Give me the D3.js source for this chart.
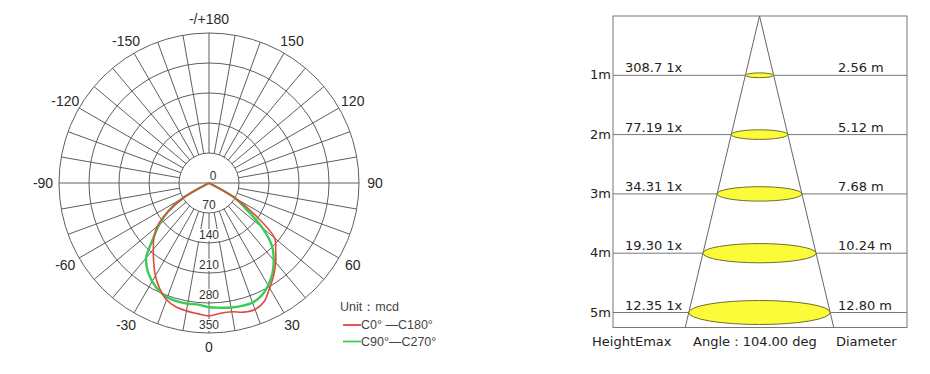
<!DOCTYPE html>
<html>
<head>
<meta charset="utf-8">
<script src="https://cdn.jsdelivr.net/npm/d3@7"></script>
<style>
  body { margin: 0; background: #fff; }
  svg { display: block; }
</style>
</head>
<body>
<div id="chart"></div>
<script>
// polar curve data, angle in degrees (0 = straight down), values in mcd
const angles = d3.range(-90, 91, 5);
const c0_c180 = [0, 0, 0, 0, 0, 0, 70, 118, 158, 182, 202, 225, 250, 272, 290, 299, 303, 306, 310,
                 305, 305, 312, 314, 305, 283, 263, 242, 220, 200, 135, 70, 0, 0, 0, 0, 0, 0];
const c90_c270 = [0, 0, 0, 0, 0, 0, 70, 117, 152, 185, 228, 250, 265, 277, 284, 286, 286, 285, 290,
                  292, 295, 297, 297, 290, 276, 258, 235, 208, 162, 105, 70, 0, 0, 0, 0, 0, 0];
const ringTicks = [0, 70, 140, 210, 280, 350];
const angleTicks = [0, 30, 60, 90, 120, 150, 180, -150, -120, -90, -60, -30];
const angleLabels = ["0", "30", "60", "90", "120", "150", "-/+180", "-150", "-120", "-90", "-60", "-30"];

// light cone data
const heights = [1, 2, 3, 4, 5];
const heightLabels = ["1m", "2m", "3m", "4m", "5m"];
const emax = ["308.7 1x", "77.19 1x", "34.31 1x", "19.30 1x", "12.35 1x"];
const diameters = [2.56, 5.12, 7.68, 10.24, 12.80];
const beamAngle = "104.00";

const svg = d3.select("#chart").append("svg")
  .attr("width", 930)
  .attr("height", 374)
  .style("background", "#fff");

// ---------- polar diagram ----------
const cx = 209, cy = 183, R = 150;
const r = d3.scaleLinear().domain([0, 350]).range([0, R]);
const rad = d => d * Math.PI / 180;
const grid = "#5e5e5e";

const polar = svg.append("g").attr("transform", `translate(${cx},${cy})`);

// rings (inner one is the empty hub)
polar.selectAll("circle.ring")
  .data(ringTicks.slice(1))
  .join("circle")
  .attr("class", "ring")
  .attr("r", d => r(d))
  .attr("fill", "none")
  .attr("stroke", grid)
  .attr("stroke-width", 1);

// spokes every 10 deg, from the hub outwards
const spokes = d3.range(-170, 181, 10);
polar.selectAll("line.spoke")
  .data(spokes)
  .join("line")
  .attr("class", "spoke")
  .attr("x1", d => Math.abs(d) === 90 ? 0 : r(70) * Math.sin(rad(d)))
  .attr("y1", d => Math.abs(d) === 90 ? 0 : r(70) * Math.cos(rad(d)))
  .attr("x2", d => r(350) * Math.sin(rad(d)))
  .attr("y2", d => r(350) * Math.cos(rad(d)))
  .attr("stroke", grid)
  .attr("stroke-width", 1);

// ring value labels
const ringLab = polar.selectAll("g.rl")
  .data(ringTicks)
  .join("g")
  .attr("class", "rl")
  .attr("transform", d => d === 0 ? "translate(4,-7)" : `translate(0,${r(d) - 8})`);
ringLab.filter(d => d !== 0).append("rect")
  .attr("x", d => -String(d).length * 3.4 - 1)
  .attr("y", -6)
  .attr("width", d => String(d).length * 6.8 + 2)
  .attr("height", 12)
  .attr("fill", "#fff");
ringLab.append("text")
  .attr("text-anchor", "middle")
  .attr("dominant-baseline", "central")
  .style("font-family", "Liberation Sans, Arial, sans-serif")
  .style("font-size", "12px")
  .attr("fill", "#333")
  .text(d => d);

// angle labels
polar.selectAll("text.al")
  .data(angleTicks)
  .join("text")
  .attr("class", "al")
  .attr("x", d => 166 * Math.sin(rad(d)))
  .attr("y", d => 164 * Math.cos(rad(d)))
  .attr("text-anchor", "middle")
  .attr("dominant-baseline", "central")
  .style("font-family", "Liberation Sans, Arial, sans-serif")
  .style("font-size", "14px")
  .attr("fill", "#2a2a2a")
  .text((d, i) => angleLabels[i]);

// intensity curves
const curve = d3.lineRadial()
  .angle((d, i) => Math.PI - rad(angles[i]))
  .radius(d => r(d))
  .curve(d3.curveCatmullRom.alpha(0.5));

polar.append("path")
  .datum(c90_c270)
  .attr("d", curve)
  .attr("fill", "none")
  .attr("stroke", "#3acb55")
  .attr("stroke-width", 2.4)
  .attr("stroke-linejoin", "round");

polar.append("path")
  .datum(c0_c180)
  .attr("d", curve)
  .attr("fill", "none")
  .attr("stroke", "#e0493f")
  .attr("stroke-width", 1.6)
  .attr("stroke-linejoin", "round");

// legend
const leg = svg.append("g").style("font-family", "Liberation Sans, Arial, sans-serif").style("font-size", "12.5px");
leg.append("text").attr("x", 340).attr("y", 307).attr("dominant-baseline", "central").attr("fill", "#444").text("Unit：mcd");
const legItems = [
  {name: "C0° —C180°", color: "#e0493f"},
  {name: "C90°—C270°", color: "#3acb55"}
];
legItems.forEach((it, i) => {
  const y = 325 + i * 16.5;
  leg.append("line").attr("x1", 343).attr("x2", 361).attr("y1", y).attr("y2", y)
    .attr("stroke", it.color).attr("stroke-width", 1.8);
  leg.append("text").attr("x", 361).attr("y", y).attr("dominant-baseline", "central")
    .attr("fill", "#444").text(it.name);
});

// ---------- light cone ----------
const boxL = 613, boxR = 907;
const y = d3.scaleLinear().domain([0, 5]).range([16, 312.5]);
const apexX = 759.5;
const halfAt = d3.scaleLinear().domain([0, 6.4]).range([0, 70.7]);   // metres of radius -> px
const ry = d3.scaleLinear().domain([0, 12.8]).range([0, 12]);
const coneTan = (diameters[4] / 2) / heights[4];  // radius per metre of height
const bottomH = y.invert(327.5);

const cone = svg.append("g");
cone.append("rect")
  .attr("x", boxL).attr("y", y(0))
  .attr("width", boxR - boxL).attr("height", y(bottomH) - y(0))
  .attr("fill", "none").attr("stroke", "#777").attr("stroke-width", 1);

cone.selectAll("line.lvl")
  .data(heights)
  .join("line")
  .attr("class", "lvl")
  .attr("x1", boxL).attr("x2", boxR)
  .attr("y1", d => y(d)).attr("y2", d => y(d))
  .attr("stroke", "#777").attr("stroke-width", 1);

[-1, 1].forEach(s => {
  cone.append("line")
    .attr("x1", apexX).attr("y1", y(0))
    .attr("x2", apexX + s * halfAt(coneTan * bottomH)).attr("y2", y(bottomH))
    .attr("stroke", "#666").attr("stroke-width", 1);
});

cone.selectAll("ellipse")
  .data(diameters)
  .join("ellipse")
  .attr("cx", apexX)
  .attr("cy", (d, i) => y(heights[i]))
  .attr("rx", d => halfAt(d / 2))
  .attr("ry", d => ry(d))
  .attr("fill", "#fbfb3a")
  .attr("stroke", "#6f6f2a")
  .attr("stroke-width", 1);

const tf = g => g.style("font-family", "DejaVu Sans, Verdana, sans-serif").style("font-size", "13px").attr("fill", "#222");

cone.selectAll("text.hl")
  .data(heightLabels)
  .join("text")
  .attr("class", "hl")
  .attr("x", boxL - 2).attr("y", (d, i) => y(heights[i]) + 4)
  .attr("text-anchor", "end")
  .call(tf)
  .text(d => d);

cone.selectAll("text.em")
  .data(emax)
  .join("text")
  .attr("class", "em")
  .attr("x", 625).attr("y", (d, i) => y(heights[i]) - 3)
  .call(tf)
  .text(d => d);

cone.selectAll("text.dm")
  .data(diameters)
  .join("text")
  .attr("class", "dm")
  .attr("x", 838).attr("y", (d, i) => y(heights[i]) - 3)
  .call(tf)
  .text(d => d.toFixed(2) + " m");

cone.append("text").attr("x", 592).attr("y", 346).call(tf).text("HeightEmax");
cone.append("text").attr("x", 693).attr("y", 346).call(tf).text("Angle : " + beamAngle + " deg");
cone.append("text").attr("x", 836).attr("y", 346).call(tf).text("Diameter");
</script>
</body>
</html>
